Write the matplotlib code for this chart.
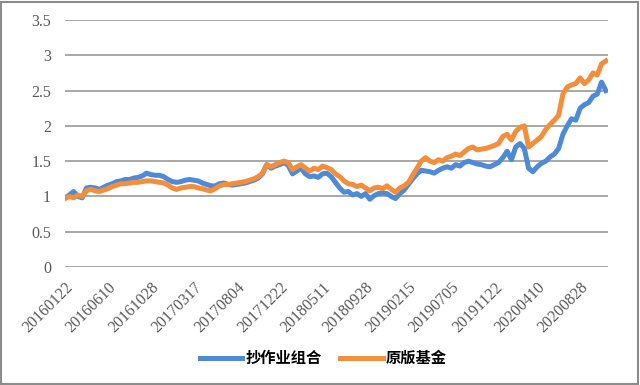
import numpy as np
import matplotlib
matplotlib.use('Agg')
import matplotlib.pyplot as plt

plt.rcParams['font.family'] = ['Noto Sans CJK SC', 'DejaVu Sans']

# tick labels (one every 10 samples)
date_labels = ['20160122', '20160610', '20161028', '20170317', '20170804',
               '20171222', '20180511', '20180928', '20190215', '20190705',
               '20191122', '20200410', '20200828']

# 抄作业组合 (blue)
copy_port = [0.98, 1.02, 1.07, 1.00, 0.98, 1.12, 1.13, 1.12, 1.10, 1.13,
             1.16, 1.18, 1.21, 1.22, 1.24, 1.24, 1.26, 1.27, 1.29, 1.33,
             1.31, 1.30, 1.30, 1.28, 1.24, 1.21, 1.20, 1.21, 1.23, 1.24,
             1.23, 1.22, 1.19, 1.17, 1.15, 1.15, 1.18, 1.19, 1.17, 1.16,
             1.17, 1.18, 1.19, 1.21, 1.23, 1.26, 1.32, 1.45, 1.40, 1.43,
             1.45, 1.48, 1.44, 1.32, 1.36, 1.40, 1.32, 1.28, 1.29, 1.27,
             1.32, 1.33, 1.28, 1.20, 1.12, 1.06, 1.07, 1.02, 1.04, 1.00,
             1.04, 0.96, 1.01, 1.04, 1.05, 1.04, 1.00, 0.97, 1.04, 1.09,
             1.17, 1.25, 1.32, 1.37, 1.36, 1.35, 1.33, 1.37, 1.40, 1.42,
             1.40, 1.45, 1.43, 1.48, 1.50, 1.48, 1.46, 1.45, 1.43, 1.42,
             1.45, 1.48, 1.55, 1.64, 1.52, 1.70, 1.75, 1.68, 1.40, 1.35,
             1.42, 1.47, 1.50, 1.56, 1.60, 1.68, 1.88, 2.00, 2.10, 2.08,
             2.25, 2.30, 2.33, 2.42, 2.45, 2.62, 2.50]

# 原版基金 (orange)
orig_fund = [0.97, 1.00, 0.98, 1.02, 1.00, 1.08, 1.10, 1.08, 1.07, 1.09,
             1.11, 1.14, 1.16, 1.18, 1.18, 1.19, 1.20, 1.20, 1.21, 1.22,
             1.22, 1.21, 1.20, 1.19, 1.16, 1.12, 1.10, 1.12, 1.13, 1.14,
             1.14, 1.12, 1.11, 1.09, 1.08, 1.11, 1.15, 1.17, 1.17, 1.18,
             1.19, 1.20, 1.21, 1.23, 1.25, 1.28, 1.33, 1.45, 1.42, 1.45,
             1.48, 1.50, 1.48, 1.38, 1.42, 1.45, 1.40, 1.36, 1.40, 1.38,
             1.43, 1.41, 1.38, 1.32, 1.28, 1.22, 1.18, 1.17, 1.14, 1.16,
             1.12, 1.08, 1.12, 1.13, 1.11, 1.15, 1.10, 1.06, 1.12, 1.15,
             1.20, 1.30, 1.40, 1.50, 1.55, 1.50, 1.48, 1.52, 1.50, 1.55,
             1.57, 1.60, 1.58, 1.63, 1.68, 1.70, 1.66, 1.67, 1.68, 1.70,
             1.72, 1.75, 1.85, 1.88, 1.80, 1.92, 1.98, 2.00, 1.70, 1.75,
             1.80, 1.85, 1.95, 2.02, 2.08, 2.15, 2.45, 2.55, 2.58, 2.60,
             2.68, 2.60, 2.65, 2.75, 2.72, 2.88, 2.92]

fig = plt.figure(figsize=(6.4, 3.85), dpi=100)
ax = fig.add_axes([0.1016, 0.3065, 0.8484, 0.6415])

x = np.arange(len(copy_port))
p1, = ax.plot(x, copy_port, color='#4F8AD6', lw=3.6, solid_joinstyle='round')
p2, = ax.plot(x, orig_fund, color='#F28E3C', lw=3.6, solid_joinstyle='round')

ax.set_ylim(0, 3.5)
ax.set_xlim(0, len(x) - 0.5)
ax.set_yticks(np.arange(0, 3.51, 0.5))
ax.set_yticklabels(['0', '0.5', '1', '1.5', '2', '2.5', '3', '3.5'],
                   family='Liberation Serif', fontsize=11.5, color='#595959')
ax.set_xticks(np.arange(0, len(x), 10))
ax.set_xticklabels(date_labels, rotation=45, ha='right', rotation_mode='anchor',
                   family='Liberation Serif', fontsize=11.5, color='#595959')
ax.tick_params(axis='y', length=0, pad=10)
ax.tick_params(axis='x', length=0, pad=9)
ax.yaxis.grid(True, color='#A0A0A0', lw=1.3)
ax.set_axisbelow(True)
for s in ax.spines.values():
    s.set_visible(False)

fig.legend([p1, p2], ['抄作业组合', '原版基金'], loc='center',
           bbox_to_anchor=(0.505, 0.07), ncol=2, frameon=False,
           prop={'family': 'Noto Sans CJK SC', 'weight': 'bold', 'size': 11},
           handlelength=2.8, handletextpad=0.2, columnspacing=1.2)

fig.patches.append(plt.Rectangle((0.002, 0.003), 0.995, 0.993, transform=fig.transFigure,
                                 fill=False, edgecolor='#8C8C8C', lw=1.5))

fig.savefig('out.png', dpi=100)
